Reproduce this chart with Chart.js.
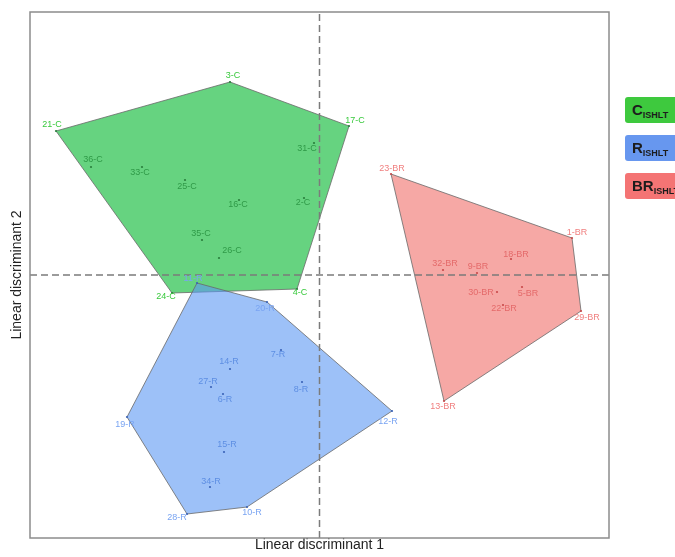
<!DOCTYPE html>
<html>
<head>
<meta charset="utf-8">
<script src="https://cdn.jsdelivr.net/npm/chart.js@4.4.1/dist/chart.umd.min.js"></script>
<style>
  html, body { margin: 0; padding: 0; background: #fff; overflow: hidden; }
  #wrap { position: relative; width: 675px; height: 557px; }
  canvas { position: absolute; left: 0; top: 0; }
  .key {
    position: absolute; left: 625px; width: 62px; height: 26px;
    border-radius: 3px; box-sizing: border-box; padding-left: 7px;
    font-family: "Liberation Sans", Arial, sans-serif; font-weight: bold;
    font-size: 15px; line-height: 26px; color: #1c1c1c; white-space: nowrap;
  }
  .key sub { font-size: 9px; vertical-align: -3px; line-height: 0; }
</style>
</head>
<body>
<div id="wrap">
  <canvas id="c" width="675" height="557"></canvas>
</div>
<script>
// Group keys (legend order)
const groupNames = ['C', 'R', 'BR'];
const groupSub = 'ISHLT';

// Group C: LD1 / LD2 scores
const namesC = ['3-C', '21-C', '17-C', '24-C', '4-C', '36-C', '33-C', '25-C', '16-C', '31-C', '2-C', '35-C', '26-C'];
const ld1C = [-1.79, -5.27, 0.59, -2.95, -0.45, -4.57, -3.55, -2.69, -1.61, -0.11, -0.31, -2.35, -2.01];
const ld2C = [3.86, 2.88, 2.98, -0.36, -0.28, 2.16, 2.16, 1.90, 1.50, 2.64, 1.54, 0.70, 0.34];
const hullC = ['3-C', '17-C', '4-C', '24-C', '21-C'];

// Group R
const namesR = ['11-R', '20-R', '12-R', '10-R', '28-R', '19-R', '7-R', '14-R', '27-R', '6-R', '8-R', '15-R', '34-R'];
const ld1R = [-2.45, -1.05, 1.45, -1.45, -2.65, -3.85, -0.77, -1.79, -2.17, -1.93, -0.35, -1.91, -2.19];
const ld2R = [-0.16, -0.54, -2.72, -4.64, -4.78, -2.84, -1.50, -1.88, -2.24, -2.38, -2.14, -3.54, -4.24];
const hullR = ['11-R', '20-R', '12-R', '10-R', '28-R', '19-R'];

// Group BR
const namesBR = ['23-BR', '1-BR', '29-BR', '13-BR', '18-BR', '32-BR', '9-BR', '30-BR', '5-BR', '22-BR'];
const ld1BR = [1.43, 5.05, 5.23, 2.49, 3.83, 2.47, 3.15, 3.55, 4.05, 3.67];
const ld2BR = [2.02, 0.74, -0.72, -2.52, 0.32, 0.10, 0.04, -0.34, -0.24, -0.60];
const hullBR = ['23-BR', '1-BR', '29-BR', '13-BR'];

// Axis limits (LD1, LD2)
const xLimits = [-5.79, 5.79];
const yLimits = [-5.26, 5.26];

// Label placement relative to each point, in pixels
const labelNudge = {
  '3-C': [3, -6], '21-C': [-4, -6], '17-C': [6, -5], '24-C': [-6, 4], '4-C': [3, 4],
  '36-C': [2, -7], '33-C': [-2, 6], '25-C': [2, 7], '16-C': [-1, 5], '31-C': [-7, 6],
  '2-C': [-1, 5], '35-C': [-1, -6], '26-C': [13, -7],
  '11-R': [-4, -4], '20-R': [-2, 7], '12-R': [-4, 11], '10-R': [5, 6], '28-R': [-10, 4],
  '19-R': [-2, 8], '7-R': [-3, 5], '14-R': [-1, -7], '27-R': [-3, -5], '6-R': [2, 6],
  '8-R': [-1, 8], '15-R': [3, -7], '34-R': [1, -5],
  '23-BR': [1, -5], '1-BR': [5, -5], '29-BR': [6, 7], '13-BR': [-1, 6], '18-BR': [5, -4],
  '32-BR': [2, -6], '9-BR': [1, -6], '30-BR': [-16, 1], '5-BR': [6, 7], '22-BR': [1, 4]
};

const groups = [
  { key: 'C', names: namesC, xs: ld1C, ys: ld2C, hull: hullC,
    fill: 'rgba(0,182,44,0.6)', key_bg: '#3ec93e', dot: '#2a7f3c', outer: '#38c93c', inner: '#2f9a48' },
  { key: 'R', names: namesR, xs: ld1R, ys: ld2R, hull: hullR,
    fill: 'rgba(92,152,243,0.6)', key_bg: '#6797ef', dot: '#3b63b8', outer: '#79a4f2', inner: '#5e8fe3' },
  { key: 'BR', names: namesBR, xs: ld1BR, ys: ld2BR, hull: hullBR,
    fill: 'rgba(240,110,105,0.6)', key_bg: '#f47474', dot: '#c84a4a', outer: '#f07f7f', inner: '#e46a6a' }
];

function pointsOf(g) {
  return g.names.map((n, i) => ({ x: g.xs[i], y: g.ys[i] }));
}
function hullOf(g) {
  const pts = g.hull.map(n => {
    const i = g.names.indexOf(n);
    return { x: g.xs[i], y: g.ys[i] };
  });
  pts.push(pts[0]);
  return pts;
}

const byKey = k => groups.find(g => g.key === k);
const datasets = [];

// Reference lines at LD1 = 0 and LD2 = 0
datasets.push({
  data: [{ x: 0, y: yLimits[0] }, { x: 0, y: yLimits[1] }],
  showLine: true, borderColor: '#7b7b7b', borderWidth: 1.5, borderDash: [7, 4],
  pointRadius: 0, fill: false
});
datasets.push({
  data: [{ x: xLimits[0], y: 0 }, { x: xLimits[1], y: 0 }],
  showLine: true, borderColor: '#7b7b7b', borderWidth: 1.5, borderDash: [7, 4],
  pointRadius: 0, fill: false
});

// Individual observations
groups.forEach(g => {
  datasets.push({
    data: pointsOf(g), pointNames: g.names, hull: g.hull,
    labelOuter: g.outer, labelInner: g.inner,
    pointRadius: 1.1, pointBackgroundColor: g.dot, pointBorderWidth: 0, showLine: false
  });
});

// Convex hulls, blue over green over red
['R', 'C', 'BR'].forEach(k => {
  const g = byKey(k);
  datasets.push({
    data: hullOf(g), showLine: true, fill: 'shape', tension: 0,
    backgroundColor: g.fill, borderColor: 'rgba(105,105,105,0.8)', borderWidth: 1,
    pointRadius: 0
  });
});

const pointLabels = {
  id: 'pointLabels',
  afterDatasetsDraw(chart) {
    const { ctx } = chart;
    ctx.save();
    ctx.font = '9px "Liberation Sans", Arial, sans-serif';
    ctx.textAlign = 'center';
    ctx.textBaseline = 'middle';
    chart.data.datasets.forEach((ds, i) => {
      if (!ds.pointNames) return;
      const meta = chart.getDatasetMeta(i);
      meta.data.forEach((el, j) => {
        const name = ds.pointNames[j];
        const nudge = labelNudge[name] || [0, -6];
        ctx.fillStyle = ds.hull.includes(name) ? ds.labelOuter : ds.labelInner;
        ctx.fillText(name, el.x + nudge[0], el.y + nudge[1]);
      });
    });
    ctx.restore();
  }
};

const panelBorder = {
  id: 'panelBorder',
  afterDraw(chart) {
    const { ctx, chartArea: a } = chart;
    ctx.save();
    ctx.strokeStyle = '#8c8c8c';
    ctx.lineWidth = 1.5;
    ctx.strokeRect(a.left, a.top, a.right - a.left, a.bottom - a.top);
    ctx.restore();
  }
};

const titleFont = { family: '"Liberation Sans", Arial, sans-serif', size: 14, lineHeight: 1 };

new Chart(document.getElementById('c'), {
  type: 'scatter',
  data: { datasets },
  options: {
    responsive: false,
    animation: false,
    layout: { padding: { left: 10, right: 66, top: 12, bottom: 5 } },
    plugins: { legend: { display: false }, tooltip: { enabled: false } },
    scales: {
      x: {
        type: 'linear', min: xLimits[0], max: xLimits[1],
        ticks: { display: false }, grid: { display: false, drawTicks: false }, border: { display: false },
        title: { display: true, text: 'Linear discriminant 1', font: titleFont, color: '#222', padding: { top: 0, bottom: 0 } }
      },
      y: {
        type: 'linear', min: yLimits[0], max: yLimits[1],
        ticks: { display: false }, grid: { display: false, drawTicks: false }, border: { display: false },
        title: { display: true, text: 'Linear discriminant 2', font: titleFont, color: '#222', padding: { top: 0, bottom: 6 } }
      }
    }
  },
  plugins: [pointLabels, panelBorder]
});

// Group key boxes
const keyTops = [97, 135, 173];
const wrap = document.getElementById('wrap');
groupNames.forEach((name, i) => {
  const g = byKey(name);
  const d = document.createElement('div');
  d.className = 'key';
  d.style.top = keyTops[i] + 'px';
  d.style.background = g.key_bg;
  d.appendChild(document.createTextNode(name));
  const s = document.createElement('sub');
  s.textContent = groupSub;
  d.appendChild(s);
  wrap.appendChild(d);
});
</script>
</body>
</html>
